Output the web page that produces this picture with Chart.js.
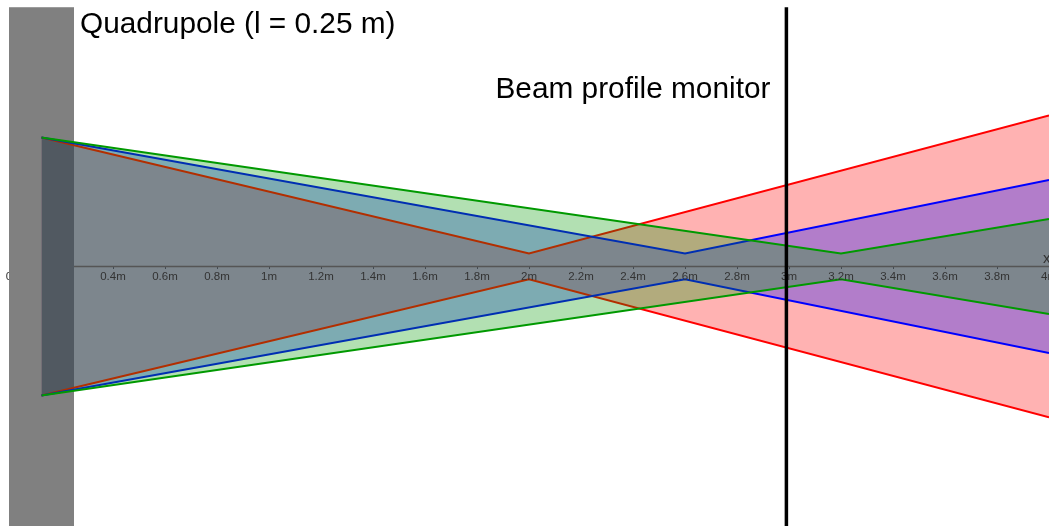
<!DOCTYPE html>
<html>
<head>
<meta charset="utf-8">
<script src="https://cdn.jsdelivr.net/npm/chart.js@4.4.1/dist/chart.umd.min.js"></script>
<style>
  html, body { margin: 0; padding: 0; background: #fff; overflow: hidden; }
  #wrap { position: relative; width: 1100px; height: 526px; }
</style>
</head>
<body>
<div id="wrap"><canvas id="beam"></canvas></div>
<script>
'use strict';

// ── Beam envelopes (x in m, half-width in arbitrary units) ─────
const redX       = [0.125, 2.0, 4.0];
const redUpper   = [0.5, 0.05, 0.585];
const redLower   = [-0.5, -0.05, -0.585];

const blueX      = [0.125, 2.6, 4.0];
const blueUpper  = [0.5, 0.05, 0.335];
const blueLower  = [-0.5, -0.05, -0.335];

const greenX     = [0.125, 3.2, 4.0];
const greenUpper = [0.5, 0.05, 0.184];
const greenLower = [-0.5, -0.05, -0.184];

// axis ticks every 0.2 m
const tickValues = [0, 0.2, 0.4, 0.6, 0.8, 1, 1.2, 1.4, 1.6, 1.8, 2, 2.2, 2.4, 2.6, 2.8, 3, 3.2, 3.4, 3.6, 3.8, 4];

const QUAD_LENGTH = 0.25;   // quadrupole length, m
const MONITOR_X   = 2.99;   // beam profile monitor position, m
const TOP_Y       = 1.005;  // upper end of quadrupole block / monitor line

const RED   = '#ff0000', RED_FILL   = 'rgba(255,0,0,0.3)';
const BLUE  = '#0000ff', BLUE_FILL  = 'rgba(0,0,255,0.3)';
const GREEN = '#009900', GREEN_FILL = 'rgba(0,153,0,0.3)';

const TICK_FONT = '11.5px "Liberation Sans", Arial, sans-serif';
const fmt = v => v === 0 ? '0' : (Math.round(v * 10) / 10) + 'm';

const edge = (xs, ys) => xs.map((x, i) => ({ x, y: ys[i] }));

// band between upper and lower edge; `line` null => fill only
function band(xs, upper, lower, line, fillColor, order) {
  const bw = line ? 2 : 0;
  return [
    { data: edge(xs, upper), borderColor: line || 'transparent', borderWidth: bw,
      backgroundColor: fillColor, fill: '+1', order: order },
    { data: edge(xs, lower), borderColor: line || 'transparent', borderWidth: bw,
      fill: false, order: order - 0.5 },
  ];
}

function edges(xs, upper, lower, line, order) {
  return [
    { data: edge(xs, upper), borderColor: line, fill: false, order: order },
    { data: edge(xs, lower), borderColor: line, fill: false, order: order },
  ];
}

// higher order is painted first: red/blue fills, their edges, then green on top
const datasets = [
  ...band(redX,  redUpper,  redLower,  null, RED_FILL,  10),
  ...band(blueX, blueUpper, blueLower, null, BLUE_FILL, 9),
  ...edges(redX,  redUpper,  redLower,  RED,  8),
  ...edges(blueX, blueUpper, blueLower, BLUE, 7),
  ...band(greenX, greenUpper, greenLower, GREEN, GREEN_FILL, 2),
];

// tick labels; `under` picks the ones hidden behind the quadrupole block
function drawTickLabels(chart, under) {
  const { ctx, scales: { x, y } } = chart;
  const y0 = y.getPixelForValue(0);
  ctx.save();
  ctx.fillStyle = '#333';
  ctx.font = TICK_FONT;
  ctx.textAlign = 'center';
  ctx.textBaseline = 'middle';
  x.ticks.forEach(t => {
    if ((t.value <= QUAD_LENGTH) === under) ctx.fillText(fmt(t.value), x.getPixelForValue(t.value), y0 + 10);
  });
  ctx.restore();
}

// ── Quadrupole block, beam axis, monitor and captions ─────────
const overlay = {
  id: 'overlay',
  beforeDatasetsDraw(chart) {
    const { ctx, scales: { x, y } } = chart;
    drawTickLabels(chart, true);
    const x0 = x.getPixelForValue(0);
    const x1 = x.getPixelForValue(QUAD_LENGTH);
    const top = y.getPixelForValue(TOP_Y);
    ctx.save();
    ctx.fillStyle = '#808080';
    ctx.fillRect(x0, top, x1 - x0, chart.height - top);
    ctx.restore();
  },
  afterDatasetsDraw(chart) {
    const { ctx, scales: { x, y } } = chart;
    const y0 = y.getPixelForValue(0);
    ctx.save();

    // beam axis
    ctx.strokeStyle = '#555';
    ctx.lineWidth = 1.5;
    ctx.beginPath();
    ctx.moveTo(x.getPixelForValue(QUAD_LENGTH), y0);
    ctx.lineTo(x.getPixelForValue(4), y0);
    ctx.stroke();
    ctx.restore();

    drawTickLabels(chart, false);

    ctx.save();
    ctx.fillStyle = '#333';
    ctx.font = '15px "Liberation Sans", Arial, sans-serif';
    ctx.fillText('x', x.getPixelForValue(4) - 6, y0 - 3);

    // monitor
    const mx = x.getPixelForValue(MONITOR_X);
    ctx.strokeStyle = '#000';
    ctx.lineWidth = 3.5;
    ctx.beginPath();
    ctx.moveTo(mx, y.getPixelForValue(TOP_Y));
    ctx.lineTo(mx, chart.height);
    ctx.stroke();

    ctx.fillStyle = '#000';
    ctx.font = '29.8px "Liberation Sans", Arial, sans-serif';
    ctx.fillText('Quadrupole (l = 0.25 m)', x.getPixelForValue(QUAD_LENGTH) + 6, 33);
    ctx.textAlign = 'right';
    ctx.fillText('Beam profile monitor', mx - 16, 98);
    ctx.restore();
  }
};

new Chart(document.getElementById('beam'), {
  type: 'line',
  data: { datasets },
  plugins: [overlay],
  options: {
    responsive: true,
    maintainAspectRatio: false,
    animation: false,
    layout: { padding: { left: 9, right: 51, top: 0, bottom: 0 } },
    elements: {
      point: { radius: 0, hoverRadius: 0 },
      line: { borderWidth: 2, tension: 0 },
    },
    plugins: {
      legend: { display: false },
      tooltip: { enabled: false },
    },
    scales: {
      x: {
        type: 'linear',
        min: 0,
        max: 4,
        position: { y: 0 },
        afterBuildTicks: scale => { scale.ticks = tickValues.map(v => ({ value: v })); },
        grid: { drawOnChartArea: false, drawTicks: true, tickLength: 3, color: '#555' },
        border: { display: false },
        ticks: {
          autoSkip: false,
          maxRotation: 0,
          padding: 2,
          font: { family: 'Liberation Sans', size: 11.5 },
          // labels are painted by the overlay, around the quadrupole block
          callback: () => '',
        },
      },
      y: {
        type: 'linear',
        display: false,
        min: -1.006,
        max: 1.033,
      },
    },
  },
});
</script>
</body>
</html>
